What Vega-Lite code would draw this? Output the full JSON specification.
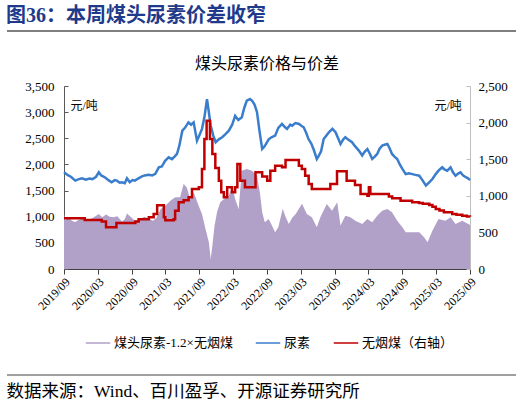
{
  "$schema": "https://vega.github.io/schema/vega-lite/v6.json",
  "background": "white",
  "padding": {"left": 6, "top": 6, "right": 5, "bottom": 0},
  "spacing": 24,
  "datasets": {
    "spread": [
      {"d": "2019-09-01", "v": 1052}, {"d": "2019-09-08", "v": 930}, {"d": "2019-09-25", "v": 990},
      {"d": "2019-10-15", "v": 920}, {"d": "2019-11-01", "v": 900}, {"d": "2019-11-20", "v": 940},
      {"d": "2019-12-10", "v": 960}, {"d": "2020-01-10", "v": 925}, {"d": "2020-02-05", "v": 980},
      {"d": "2020-03-07", "v": 1052}, {"d": "2020-03-25", "v": 990}, {"d": "2020-04-15", "v": 1040},
      {"d": "2020-05-05", "v": 1000}, {"d": "2020-05-25", "v": 990}, {"d": "2020-06-15", "v": 1010},
      {"d": "2020-07-10", "v": 910}, {"d": "2020-07-25", "v": 950}, {"d": "2020-08-06", "v": 1060},
      {"d": "2020-08-25", "v": 1000}, {"d": "2020-09-18", "v": 925}, {"d": "2020-10-15", "v": 960},
      {"d": "2020-11-10", "v": 1000}, {"d": "2020-12-05", "v": 950}, {"d": "2020-12-25", "v": 925},
      {"d": "2021-01-12", "v": 980}, {"d": "2021-02-04", "v": 1148}, {"d": "2021-03-01", "v": 1210},
      {"d": "2021-03-28", "v": 1306}, {"d": "2021-04-24", "v": 1370}, {"d": "2021-05-20", "v": 1370},
      {"d": "2021-06-08", "v": 1626}, {"d": "2021-06-25", "v": 1560}, {"d": "2021-07-13", "v": 1340},
      {"d": "2021-08-01", "v": 1466}, {"d": "2021-08-28", "v": 1210}, {"d": "2021-09-15", "v": 1052},
      {"d": "2021-10-04", "v": 765}, {"d": "2021-10-22", "v": 510}, {"d": "2021-11-01", "v": 191},
      {"d": "2021-11-10", "v": 446}, {"d": "2021-11-22", "v": 830}, {"d": "2021-12-06", "v": 1100},
      {"d": "2021-12-23", "v": 1275}, {"d": "2022-01-12", "v": 1340}, {"d": "2022-02-07", "v": 1402},
      {"d": "2022-02-25", "v": 1594}, {"d": "2022-03-13", "v": 1340}, {"d": "2022-04-01", "v": 1148},
      {"d": "2022-04-18", "v": 1880}, {"d": "2022-05-15", "v": 1913}, {"d": "2022-06-12", "v": 1880},
      {"d": "2022-07-09", "v": 1785}, {"d": "2022-07-25", "v": 1450}, {"d": "2022-08-06", "v": 1084},
      {"d": "2022-08-20", "v": 893}, {"d": "2022-09-10", "v": 957}, {"d": "2022-09-25", "v": 850},
      {"d": "2022-10-15", "v": 702}, {"d": "2022-11-01", "v": 800}, {"d": "2022-11-25", "v": 1150},
      {"d": "2022-12-10", "v": 1000}, {"d": "2022-12-28", "v": 860}, {"d": "2023-01-15", "v": 980},
      {"d": "2023-02-03", "v": 1052}, {"d": "2023-03-09", "v": 1250}, {"d": "2023-04-04", "v": 1052},
      {"d": "2023-05-01", "v": 990}, {"d": "2023-05-28", "v": 797}, {"d": "2023-06-16", "v": 990},
      {"d": "2023-07-21", "v": 1243}, {"d": "2023-08-18", "v": 1116}, {"d": "2023-09-15", "v": 1275},
      {"d": "2023-10-03", "v": 830}, {"d": "2023-10-29", "v": 1020}, {"d": "2023-11-25", "v": 990},
      {"d": "2023-12-22", "v": 925}, {"d": "2024-01-28", "v": 860}, {"d": "2024-02-25", "v": 957},
      {"d": "2024-03-22", "v": 893}, {"d": "2024-04-18", "v": 1020}, {"d": "2024-05-15", "v": 1116},
      {"d": "2024-06-12", "v": 1148}, {"d": "2024-07-07", "v": 1084}, {"d": "2024-08-04", "v": 925},
      {"d": "2024-09-01", "v": 797}, {"d": "2024-09-19", "v": 702}, {"d": "2024-10-25", "v": 702},
      {"d": "2024-12-01", "v": 702}, {"d": "2024-12-27", "v": 606}, {"d": "2025-01-15", "v": 510},
      {"d": "2025-02-10", "v": 733}, {"d": "2025-03-15", "v": 957}, {"d": "2025-04-21", "v": 925},
      {"d": "2025-05-19", "v": 990}, {"d": "2025-06-15", "v": 860}, {"d": "2025-07-21", "v": 925},
      {"d": "2025-08-28", "v": 850}, {"d": "2025-09-01", "v": 840}
    ],
    "urea": [
      {"d": "2019-09-01", "v": 1850}, {"d": "2019-09-20", "v": 1800}, {"d": "2019-10-10", "v": 1760},
      {"d": "2019-11-01", "v": 1690}, {"d": "2019-11-20", "v": 1720}, {"d": "2019-12-07", "v": 1735},
      {"d": "2019-12-28", "v": 1710}, {"d": "2020-01-15", "v": 1730}, {"d": "2020-02-01", "v": 1720},
      {"d": "2020-02-20", "v": 1760}, {"d": "2020-03-07", "v": 1850}, {"d": "2020-03-20", "v": 1790},
      {"d": "2020-04-10", "v": 1750}, {"d": "2020-04-28", "v": 1700}, {"d": "2020-05-15", "v": 1660},
      {"d": "2020-06-01", "v": 1700}, {"d": "2020-06-12", "v": 1690}, {"d": "2020-06-28", "v": 1650},
      {"d": "2020-07-10", "v": 1660}, {"d": "2020-07-25", "v": 1640}, {"d": "2020-08-06", "v": 1735},
      {"d": "2020-08-21", "v": 1660}, {"d": "2020-09-05", "v": 1700}, {"d": "2020-09-18", "v": 1690},
      {"d": "2020-10-05", "v": 1730}, {"d": "2020-10-26", "v": 1770}, {"d": "2020-11-10", "v": 1790},
      {"d": "2020-12-01", "v": 1800}, {"d": "2020-12-20", "v": 1790}, {"d": "2021-01-06", "v": 1820},
      {"d": "2021-01-25", "v": 1945}, {"d": "2021-02-10", "v": 1960}, {"d": "2021-02-28", "v": 2070},
      {"d": "2021-03-19", "v": 2135}, {"d": "2021-04-06", "v": 2100}, {"d": "2021-04-20", "v": 2150},
      {"d": "2021-05-03", "v": 2200}, {"d": "2021-05-15", "v": 2350}, {"d": "2021-06-01", "v": 2645},
      {"d": "2021-06-15", "v": 2700}, {"d": "2021-07-04", "v": 2805}, {"d": "2021-07-18", "v": 2760},
      {"d": "2021-08-01", "v": 2805}, {"d": "2021-08-19", "v": 2455}, {"d": "2021-09-01", "v": 2560},
      {"d": "2021-09-15", "v": 2680}, {"d": "2021-09-28", "v": 2900}, {"d": "2021-10-12", "v": 3250},
      {"d": "2021-10-20", "v": 3050}, {"d": "2021-11-01", "v": 2740}, {"d": "2021-11-15", "v": 2550},
      {"d": "2021-11-28", "v": 2425}, {"d": "2021-12-15", "v": 2480}, {"d": "2022-01-02", "v": 2520},
      {"d": "2022-01-20", "v": 2580}, {"d": "2022-02-07", "v": 2645}, {"d": "2022-02-25", "v": 2760},
      {"d": "2022-03-13", "v": 2930}, {"d": "2022-03-30", "v": 2850}, {"d": "2022-04-18", "v": 2900},
      {"d": "2022-05-01", "v": 3080}, {"d": "2022-05-15", "v": 3220}, {"d": "2022-06-01", "v": 3250},
      {"d": "2022-06-12", "v": 3220}, {"d": "2022-06-25", "v": 3150}, {"d": "2022-07-09", "v": 3000},
      {"d": "2022-07-22", "v": 2650}, {"d": "2022-08-06", "v": 2295}, {"d": "2022-08-20", "v": 2350},
      {"d": "2022-09-10", "v": 2480}, {"d": "2022-09-25", "v": 2520}, {"d": "2022-10-15", "v": 2550},
      {"d": "2022-11-01", "v": 2700}, {"d": "2022-11-21", "v": 2775}, {"d": "2022-12-05", "v": 2720},
      {"d": "2022-12-18", "v": 2680}, {"d": "2023-01-05", "v": 2760}, {"d": "2023-01-15", "v": 2740},
      {"d": "2023-02-01", "v": 2790}, {"d": "2023-02-21", "v": 2775}, {"d": "2023-03-05", "v": 2740},
      {"d": "2023-03-18", "v": 2710}, {"d": "2023-04-01", "v": 2600}, {"d": "2023-04-13", "v": 2485},
      {"d": "2023-04-28", "v": 2400}, {"d": "2023-05-10", "v": 2295}, {"d": "2023-05-28", "v": 2105},
      {"d": "2023-06-08", "v": 2170}, {"d": "2023-06-20", "v": 2250}, {"d": "2023-07-04", "v": 2485},
      {"d": "2023-07-20", "v": 2560}, {"d": "2023-08-01", "v": 2615}, {"d": "2023-08-20", "v": 2680},
      {"d": "2023-09-06", "v": 2615}, {"d": "2023-09-20", "v": 2500}, {"d": "2023-10-03", "v": 2390},
      {"d": "2023-10-18", "v": 2480}, {"d": "2023-10-29", "v": 2520}, {"d": "2023-11-15", "v": 2470},
      {"d": "2023-12-04", "v": 2425}, {"d": "2023-12-20", "v": 2350}, {"d": "2024-01-10", "v": 2265},
      {"d": "2024-01-28", "v": 2170}, {"d": "2024-02-10", "v": 2240}, {"d": "2024-02-25", "v": 2295},
      {"d": "2024-03-10", "v": 2200}, {"d": "2024-03-22", "v": 2105}, {"d": "2024-04-05", "v": 2150},
      {"d": "2024-04-18", "v": 2200}, {"d": "2024-05-01", "v": 2300}, {"d": "2024-05-15", "v": 2360},
      {"d": "2024-06-01", "v": 2380}, {"d": "2024-06-12", "v": 2390}, {"d": "2024-06-25", "v": 2300},
      {"d": "2024-07-07", "v": 2200}, {"d": "2024-07-20", "v": 2150}, {"d": "2024-08-04", "v": 2105},
      {"d": "2024-08-18", "v": 2000}, {"d": "2024-09-01", "v": 1915}, {"d": "2024-09-19", "v": 1815},
      {"d": "2024-10-05", "v": 1830}, {"d": "2024-10-25", "v": 1815}, {"d": "2024-11-10", "v": 1800},
      {"d": "2024-12-01", "v": 1785}, {"d": "2024-12-18", "v": 1700}, {"d": "2025-01-06", "v": 1595},
      {"d": "2025-01-25", "v": 1660}, {"d": "2025-02-10", "v": 1720}, {"d": "2025-02-28", "v": 1815},
      {"d": "2025-03-15", "v": 1880}, {"d": "2025-04-04", "v": 1945}, {"d": "2025-04-18", "v": 1900},
      {"d": "2025-05-01", "v": 1880}, {"d": "2025-05-19", "v": 1945}, {"d": "2025-06-01", "v": 1850},
      {"d": "2025-06-15", "v": 1785}, {"d": "2025-07-01", "v": 1830}, {"d": "2025-07-12", "v": 1850},
      {"d": "2025-07-25", "v": 1790}, {"d": "2025-08-09", "v": 1755}, {"d": "2025-08-20", "v": 1740},
      {"d": "2025-09-01", "v": 1700}
    ],
    "coal": [
      {"d": "2019-09-01", "v": 692}, {"d": "2019-12-22", "v": 669}, {"d": "2020-03-23", "v": 650},
      {"d": "2020-04-15", "v": 570}, {"d": "2020-06-10", "v": 628}, {"d": "2020-09-20", "v": 650},
      {"d": "2020-10-08", "v": 680}, {"d": "2020-12-02", "v": 706}, {"d": "2020-12-28", "v": 751},
      {"d": "2021-01-16", "v": 872}, {"d": "2021-02-21", "v": 706}, {"d": "2021-03-01", "v": 665},
      {"d": "2021-04-15", "v": 680}, {"d": "2021-04-23", "v": 797}, {"d": "2021-05-12", "v": 911},
      {"d": "2021-06-08", "v": 940}, {"d": "2021-07-05", "v": 980}, {"d": "2021-07-23", "v": 1093},
      {"d": "2021-08-29", "v": 1116}, {"d": "2021-09-15", "v": 1366}, {"d": "2021-09-28", "v": 1776},
      {"d": "2021-10-10", "v": 2026}, {"d": "2021-10-28", "v": 1776}, {"d": "2021-11-10", "v": 1571},
      {"d": "2021-11-26", "v": 1380}, {"d": "2021-12-15", "v": 1206}, {"d": "2021-12-28", "v": 1050},
      {"d": "2022-01-11", "v": 979}, {"d": "2022-01-29", "v": 1116}, {"d": "2022-02-24", "v": 1047},
      {"d": "2022-03-13", "v": 1116}, {"d": "2022-03-25", "v": 1434}, {"d": "2022-04-10", "v": 1206},
      {"d": "2022-05-05", "v": 1116}, {"d": "2022-07-01", "v": 1321}, {"d": "2022-08-06", "v": 1263},
      {"d": "2022-09-02", "v": 1206}, {"d": "2022-09-19", "v": 1343}, {"d": "2022-10-15", "v": 1411},
      {"d": "2022-11-21", "v": 1389}, {"d": "2022-12-10", "v": 1489}, {"d": "2023-02-20", "v": 1411},
      {"d": "2023-03-08", "v": 1366}, {"d": "2023-03-26", "v": 1275}, {"d": "2023-04-14", "v": 1161},
      {"d": "2023-05-01", "v": 1093}, {"d": "2023-08-09", "v": 1161}, {"d": "2023-09-14", "v": 1334},
      {"d": "2023-11-05", "v": 1206}, {"d": "2023-12-20", "v": 1147}, {"d": "2024-01-19", "v": 1025},
      {"d": "2024-02-25", "v": 1002}, {"d": "2024-03-04", "v": 1116}, {"d": "2024-03-12", "v": 1025},
      {"d": "2024-06-20", "v": 990}, {"d": "2024-07-08", "v": 966}, {"d": "2024-08-22", "v": 933},
      {"d": "2024-10-24", "v": 911}, {"d": "2024-11-30", "v": 902}, {"d": "2024-12-20", "v": 890},
      {"d": "2025-01-24", "v": 874}, {"d": "2025-02-10", "v": 850}, {"d": "2025-02-28", "v": 820},
      {"d": "2025-03-20", "v": 800}, {"d": "2025-04-13", "v": 774}, {"d": "2025-05-28", "v": 751},
      {"d": "2025-06-20", "v": 740}, {"d": "2025-07-21", "v": 729}, {"d": "2025-08-15", "v": 718},
      {"d": "2025-09-01", "v": 715}
    ],
    "one": [{}]
  },
  "vconcat": [
    {
      "width": 509,
      "height": 20,
      "title": {
        "text": "图36：本周煤头尿素价差收窄",
        "anchor": "start",
        "fontSize": 20,
        "fontWeight": "bold",
        "color": "#1f3a8a",
        "offset": -15
      },
      "data": {"name": "one"},
      "mark": {"type": "rule", "color": "#7f7f7f", "strokeWidth": 2},
      "encoding": {
        "x": {"datum": 0, "type": "quantitative", "scale": {"domain": [0, 1]}, "axis": null},
        "x2": {"datum": 1},
        "y": {"datum": 0, "type": "quantitative", "scale": {"domain": [0, 1]}, "axis": null}
      }
    },
    {
      "spacing": 16,
      "resolve": {"scale": {"color": "independent"}, "legend": {"color": "independent"}},
      "hconcat": [
        {
          "width": 1,
          "height": 1,
          "data": {"values": []},
          "mark": "point",
          "encoding": {}
        },
        {
          "width": 406,
          "height": 183,
          "title": {
            "text": "煤头尿素价格与价差",
            "anchor": "middle",
            "fontSize": 16,
            "fontWeight": "normal",
            "color": "#000000",
            "offset": 8
          },
          "encoding": {
            "x": {
              "field": "d",
              "type": "temporal",
              "scale": {"domain": ["2019-09-01", "2025-09-01"]},
              "axis": {
                "title": null,
                "format": "%Y/%m",
                "values": [
                  {"year": 2019, "month": 9, "date": 1}, {"year": 2020, "month": 3, "date": 1},
                  {"year": 2020, "month": 9, "date": 1}, {"year": 2021, "month": 3, "date": 1},
                  {"year": 2021, "month": 9, "date": 1}, {"year": 2022, "month": 3, "date": 1},
                  {"year": 2022, "month": 9, "date": 1}, {"year": 2023, "month": 3, "date": 1},
                  {"year": 2023, "month": 9, "date": 1}, {"year": 2024, "month": 3, "date": 1},
                  {"year": 2024, "month": 9, "date": 1}, {"year": 2025, "month": 3, "date": 1},
                  {"year": 2025, "month": 9, "date": 1}
                ],
                "labelAngle": -45,
                "labelFontSize": 12,
                "labelPadding": 2,
                "labelOverlap": false,
                "labelFlush": false,
                "tickSize": 5,
                "domainColor": "#404040",
                "tickColor": "#404040"
              }
            }
          },
          "layer": [
            {
              "encoding": {
                "y": {
                  "field": "v",
                  "type": "quantitative",
                  "scale": {"domain": [0, 3500], "nice": false},
                  "axis": {
                    "orient": "left",
                    "values": [0, 500, 1000, 1500, 2000, 2500, 3000, 3500],
                    "format": ",.0f",
                    "labelOverlap": false,
                    "title": "元/吨",
                    "titleAngle": 0,
                    "titleX": 6,
                    "titleY": 19,
                    "titleAlign": "left",
                    "titleBaseline": "middle",
                    "titleFontSize": 12,
                    "titleFontWeight": "normal",
                    "tickSize": -4,
                    "labelPadding": 14,
                    "labelFontSize": 13,
                    "domainColor": "#595959",
                    "tickColor": "#595959"
                  }
                }
              },
              "layer": [
                {
                  "data": {"name": "spread"},
                  "mark": {"type": "area", "opacity": 1},
                  "encoding": {
                    "color": {
                      "datum": "煤头尿素-1.2×无烟煤",
                      "scale": {
                        "domain": ["煤头尿素-1.2×无烟煤", "尿素", "无烟煤（右轴）"],
                        "range": ["#b1a0c7", "#3a7dcc", "#c00000"]
                      },
                      "legend": {
                        "title": null,
                        "orient": "none",
                        "legendX": 21,
                        "legendY": 244,
                        "direction": "horizontal",
                        "symbolType": "stroke",
                        "symbolSize": 600,
                        "labelFontSize": 13,
                        "labelOffset": 3,
                        "columnPadding": 19,
                        "encode": {
                          "symbols": {
                            "update": {
                              "stroke": {"scale": "color", "field": "value"},
                              "strokeWidth": {"signal": "indexof(datum.value, '煤头') >= 0 ? 5 : 2.5"}
                            }
                          }
                        }
                      }
                    }
                  }
                },
                {
                  "data": {"name": "urea"},
                  "mark": {"type": "line", "strokeWidth": 2.5},
                  "encoding": {
                    "color": {"datum": "尿素"}
                  }
                }
              ]
            },
            {
              "data": {"name": "coal"},
              "mark": {"type": "line", "strokeWidth": 2.5, "interpolate": "step-after"},
              "encoding": {
                "y": {
                  "field": "v",
                  "type": "quantitative",
                  "scale": {"domain": [0, 2500], "nice": false},
                  "axis": {
                    "orient": "right",
                    "values": [0, 500, 1000, 1500, 2000, 2500],
                    "format": ",.0f",
                    "labelOverlap": false,
                    "title": "元/吨",
                    "titleAngle": 0,
                    "titleX": -36,
                    "titleY": 19,
                    "titleAlign": "left",
                    "titleBaseline": "middle",
                    "titleFontSize": 12,
                    "titleFontWeight": "normal",
                    "tickSize": -4,
                    "labelPadding": 12,
                    "labelFontSize": 13,
                    "domainColor": "#bfbfbf",
                    "tickColor": "#bfbfbf"
                  }
                },
                "color": {"datum": "无烟煤（右轴）"}
              }
            }
          ],
          "resolve": {"scale": {"y": "independent"}}
        }
      ]
    },
    {
      "width": 509,
      "height": 20,
      "title": {
        "text": "数据来源：Wind、百川盈孚、开源证券研究所",
        "orient": "bottom",
        "anchor": "start",
        "fontSize": 17.5,
        "fontWeight": "normal",
        "color": "#000000",
        "offset": -12
      },
      "data": {"name": "one"},
      "mark": {"type": "rule", "color": "#404040", "strokeWidth": 1},
      "encoding": {
        "x": {"datum": 0, "type": "quantitative", "scale": {"domain": [0, 1]}, "axis": null},
        "x2": {"datum": 1},
        "y": {"datum": 1, "type": "quantitative", "scale": {"domain": [0, 1]}, "axis": null}
      }
    }
  ],
  "config": {
    "font": "Liberation Serif, Noto Sans CJK SC",
    "view": {"stroke": null},
    "axis": {"grid": false, "labelColor": "#000000", "titleColor": "#000000", "labelFont": "Liberation Serif, Noto Sans CJK SC"},
    "legend": {"labelColor": "#000000", "labelFont": "Liberation Serif, Noto Sans CJK SC"},
    "title": {"font": "Liberation Serif, Noto Sans CJK SC"}
  }
}
